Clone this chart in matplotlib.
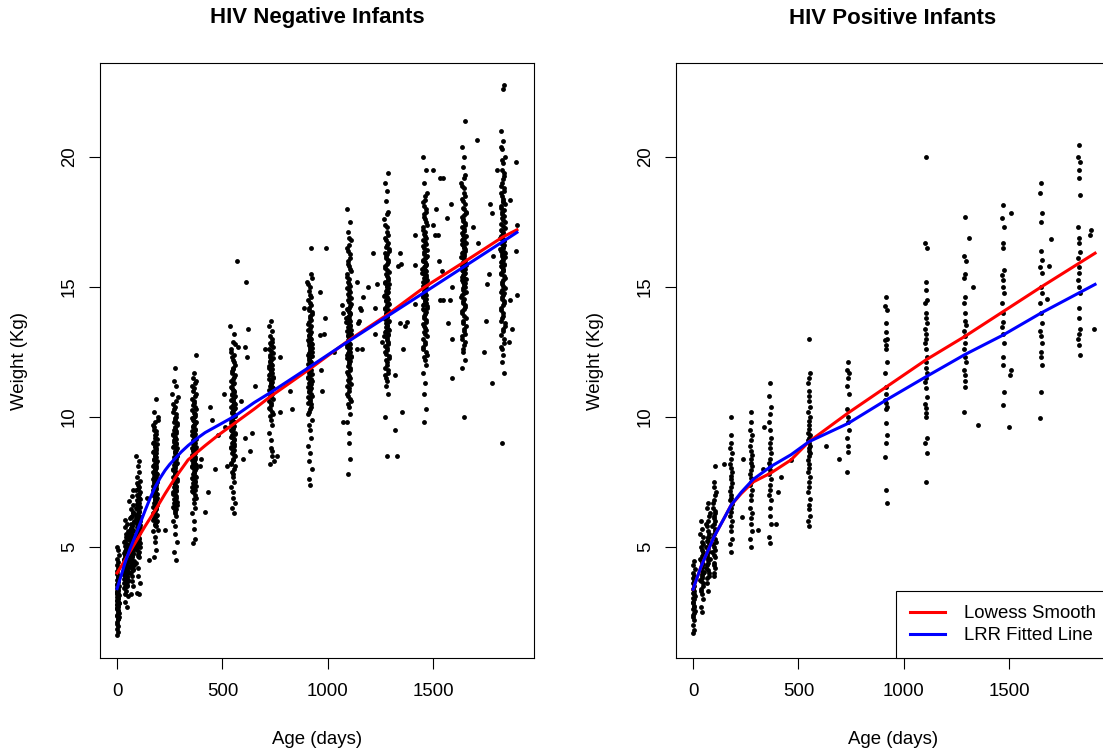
import matplotlib
matplotlib.use("Agg")
import matplotlib.pyplot as plt
import numpy as np

plt.rcParams['font.family'] = ['Liberation Sans', 'DejaVu Sans']

# ---------------------------------------------------------------------------
# Weight (kg) by age (days), HIV negative infants, grouped by scheduled visit
# ---------------------------------------------------------------------------
neg_visits = [0, 42, 70, 100, 180, 275, 365, 550, 730, 915, 1100, 1280, 1460, 1645, 1830]

neg_w0 = [1.6, 1.72, 1.85, 1.95, 2.05, 2.12, 2.22, 2.3, 2.38, 2.45, 2.52, 2.6, 2.66, 2.72,
          2.8, 2.85, 2.9, 2.96, 3.02, 3.08, 3.12, 3.18, 3.25, 3.3, 3.36, 3.42, 3.5, 3.58,
          3.65, 3.72, 3.8, 3.9, 3.98, 4.08, 4.18, 4.3, 4.42, 4.55, 4.7, 4.88, 5.0]
neg_w42 = [2.7, 2.9, 3.1, 3.2, 3.3, 3.42, 3.5, 3.56, 3.62, 3.7, 3.76, 3.82, 3.9, 3.96,
           4.02, 4.1, 4.16, 4.22, 4.3, 4.36, 4.42, 4.5, 4.56, 4.62, 4.7, 4.78, 4.86, 4.94,
           5.02, 5.1, 5.2, 5.3, 5.4, 5.5, 5.62, 5.76, 5.9, 6.05]
neg_w70 = [3.2, 3.5, 3.7, 3.88, 4.0, 4.1, 4.2, 4.3, 4.4, 4.48, 4.56, 4.64, 4.72, 4.8,
           4.88, 4.96, 5.04, 5.12, 5.2, 5.28, 5.36, 5.44, 5.52, 5.6, 5.7, 5.8, 5.9, 6.0,
           6.1, 6.2, 6.32, 6.45, 6.6, 6.78, 6.95, 7.2]
neg_w100 = [3.2, 3.25, 3.6, 3.9, 4.2, 4.4, 4.6, 4.75, 4.9, 5.0, 5.1, 5.2, 5.3, 5.4, 5.48,
            5.56, 5.64, 5.72, 5.8, 5.9, 6.0, 6.1, 6.2, 6.3, 6.4, 6.5, 6.6, 6.7, 6.8, 6.9,
            7.0, 7.12, 7.25, 7.4, 7.55, 7.7, 7.9, 8.1, 8.3, 8.5]
neg_w180 = [4.6, 4.9, 5.2, 5.4, 5.6, 5.8, 5.9, 6.0, 6.1, 6.2, 6.3, 6.4, 6.5, 6.55, 6.6,
            6.7, 6.8, 6.85, 6.9, 7.0, 7.05, 7.1, 7.2, 7.25, 7.3, 7.4, 7.45, 7.5, 7.6, 7.65,
            7.7, 7.8, 7.85, 7.9, 8.0, 8.1, 8.15, 8.2, 8.3, 8.4, 8.5, 8.6, 8.7, 8.8, 8.9,
            9.0, 9.15, 9.3, 9.45, 9.6, 9.8, 10.0, 10.2, 10.7]
neg_w275 = [4.5, 4.8, 5.2, 5.5, 5.8, 6.0, 6.2, 6.4, 6.5, 6.6, 6.7, 6.8, 6.9, 7.0, 7.1,
            7.2, 7.3, 7.35, 7.4, 7.5, 7.6, 7.7, 7.8, 7.85, 7.9, 8.0, 8.1, 8.2, 8.3, 8.4,
            8.45, 8.5, 8.6, 8.7, 8.8, 8.9, 9.0, 9.1, 9.2, 9.3, 9.4, 9.5, 9.6, 9.75, 9.9,
            10.0, 10.2, 10.4, 10.6, 10.9, 11.2, 11.4, 11.9]
neg_w365 = [5.15, 5.3, 5.7, 6.0, 6.3, 6.5, 6.7, 6.9, 7.1, 7.2, 7.3, 7.4, 7.5, 7.6, 7.7,
            7.8, 7.9, 8.0, 8.05, 8.1, 8.2, 8.3, 8.35, 8.4, 8.5, 8.6, 8.7, 8.75, 8.8, 8.9,
            9.0, 9.1, 9.2, 9.3, 9.4, 9.5, 9.6, 9.7, 9.8, 9.9, 10.0, 10.1, 10.25, 10.4,
            10.55, 10.7, 10.9, 11.1, 11.3, 11.5, 11.7, 12.4]
neg_w550 = [6.3, 6.5, 6.7, 6.9, 7.1, 7.3, 7.5, 7.7, 7.9, 8.1, 8.25, 8.4, 8.55, 8.7, 8.8,
            8.9, 9.0, 9.1, 9.2, 9.3, 9.4, 9.5, 9.6, 9.7, 9.8, 9.9, 10.0, 10.1, 10.2, 10.3,
            10.4, 10.5, 10.6, 10.7, 10.8, 10.9, 11.0, 11.1, 11.25, 11.4, 11.55, 11.7,
            11.85, 12.0, 12.2, 12.4, 12.6, 12.9, 13.2, 13.5]
neg_w730 = [8.2, 8.5, 8.8, 9.1, 9.4, 9.7, 9.9, 10.1, 10.3, 10.45, 10.6, 10.75, 10.9, 11.0,
            11.1, 11.2, 11.3, 11.4, 11.5, 11.6, 11.7, 11.8, 11.9, 12.0, 12.1, 12.2, 12.3,
            12.45, 12.6, 12.75, 12.9, 13.1, 13.3, 13.5, 13.7]
neg_w915 = [7.4, 7.6, 8.0, 8.3, 8.6, 8.9, 9.2, 9.5, 9.7, 9.9, 10.1, 10.3, 10.5, 10.6,
            10.75, 10.9, 11.0, 11.1, 11.2, 11.3, 11.4, 11.5, 11.6, 11.7, 11.8, 11.9, 12.0,
            12.1, 12.2, 12.3, 12.4, 12.5, 12.6, 12.7, 12.8, 12.9, 13.0, 13.1, 13.2, 13.35,
            13.5, 13.65, 13.8, 13.95, 14.1, 14.3, 14.5, 14.7, 15.0, 15.2, 15.5]
neg_w1100 = [7.8, 8.4, 9.0, 9.4, 9.8, 10.1, 10.4, 10.6, 10.8, 11.0, 11.2, 11.35, 11.5,
             11.65, 11.8, 11.95, 12.1, 12.2, 12.3, 12.4, 12.5, 12.6, 12.7, 12.8, 12.9, 13.0,
             13.1, 13.2, 13.3, 13.4, 13.5, 13.6, 13.7, 13.8, 13.9, 14.0, 14.1, 14.2, 14.35,
             14.5, 14.65, 14.8, 14.95, 15.1, 15.3, 15.5, 15.7, 15.9, 16.1, 16.4, 16.6, 16.8,
             17.1, 17.5, 18.0]
neg_w1280 = [8.5, 10.0, 10.9, 11.2, 11.4, 11.6, 11.8, 12.0, 12.2, 12.35, 12.5, 12.65, 12.8,
             12.95, 13.1, 13.2, 13.3, 13.4, 13.5, 13.6, 13.7, 13.8, 13.9, 14.0, 14.1, 14.2,
             14.3, 14.4, 14.5, 14.6, 14.7, 14.8, 14.9, 15.0, 15.1, 15.2, 15.35, 15.5, 15.65,
             15.8, 15.95, 16.1, 16.25, 16.4, 16.55, 16.7, 16.9, 17.1, 17.3, 17.6, 17.9, 18.3,
             18.7, 19.0, 19.4]
neg_w1460 = [9.8, 10.3, 10.9, 11.3, 11.7, 12.0, 12.2, 12.4, 12.6, 12.8, 13.0, 13.2, 13.35,
             13.5, 13.65, 13.8, 13.95, 14.1, 14.2, 14.3, 14.4, 14.5, 14.6, 14.7, 14.8, 14.9,
             15.0, 15.1, 15.2, 15.3, 15.4, 15.5, 15.6, 15.7, 15.8, 15.9, 16.0, 16.1, 16.2,
             16.35, 16.5, 16.65, 16.8, 16.95, 17.1, 17.3, 17.5, 17.7, 17.9, 18.1, 18.35,
             18.6, 19.0, 19.5, 20.0]
neg_w1645 = [10.0, 11.9, 12.2, 12.5, 12.75, 13.0, 13.2, 13.4, 13.6, 13.8, 14.0, 14.15, 14.3,
             14.45, 14.6, 14.75, 14.9, 15.0, 15.1, 15.2, 15.3, 15.4, 15.5, 15.6, 15.7, 15.8,
             15.9, 16.0, 16.1, 16.2, 16.3, 16.4, 16.5, 16.6, 16.7, 16.8, 16.9, 17.0, 17.15,
             17.3, 17.45, 17.6, 17.75, 17.9, 18.05, 18.2, 18.4, 18.6, 18.8, 19.0, 19.3, 19.6,
             20.0, 20.4, 21.4]
neg_w1830 = [9.0, 11.7, 12.1, 12.4, 12.7, 13.0, 13.3, 13.5, 13.7, 13.9, 14.1, 14.3, 14.45,
             14.6, 14.75, 14.9, 15.05, 15.2, 15.35, 15.5, 15.6, 15.7, 15.8, 15.9, 16.0, 16.1,
             16.2, 16.3, 16.4, 16.5, 16.6, 16.7, 16.8, 16.9, 17.0, 17.1, 17.2, 17.35, 17.5,
             17.65, 17.8, 17.95, 18.1, 18.25, 18.4, 18.6, 18.8, 19.0, 19.25, 19.5, 19.75,
             20.0, 20.3, 20.6, 21.0, 22.6, 22.75]

# second batch of measurements at the same visits (fills the crowded middle of each visit)
neg_w0_b = [2.25, 2.35, 2.48, 2.56, 2.64, 2.7, 2.78, 2.83, 2.88, 2.93, 3.0, 3.05, 3.14,
            3.22, 3.28, 3.34, 3.46, 3.55, 3.68, 3.85]
neg_w42_b = [3.45, 3.52, 3.6, 3.66, 3.74, 3.8, 3.86, 3.93, 4.0, 4.06, 4.13, 4.2, 4.26, 4.33,
             4.4, 4.47, 4.54, 4.6, 4.68, 4.76, 4.84, 4.92, 5.05, 5.25, 5.45]
neg_w70_b = [4.05, 4.15, 4.25, 4.35, 4.45, 4.52, 4.6, 4.68, 4.76, 4.84, 4.92, 5.0, 5.08,
             5.16, 5.24, 5.32, 5.4, 5.48, 5.56, 5.65, 5.75, 5.86, 5.98, 6.15, 6.35]
neg_w100_b = [4.65, 4.8, 4.95, 5.05, 5.15, 5.25, 5.35, 5.45, 5.52, 5.6, 5.68, 5.76, 5.85,
              5.95, 6.05, 6.15, 6.25, 6.35, 6.45, 6.55, 6.65, 6.75, 6.85, 6.95, 7.05, 7.18,
              7.3, 7.45]
neg_w180_b = [5.85, 5.95, 6.05, 6.15, 6.25, 6.35, 6.45, 6.52, 6.62, 6.75, 6.82, 6.95, 7.02,
              7.12, 7.18, 7.28, 7.35, 7.42, 7.52, 7.58, 7.68, 7.75, 7.82, 7.95, 8.05, 8.12,
              8.25, 8.35, 8.45, 8.55, 8.65, 8.75, 8.85, 8.95, 9.05, 9.2, 9.35, 9.5, 9.7, 9.9]
neg_w275_b = [6.3, 6.45, 6.55, 6.65, 6.75, 6.85, 6.95, 7.05, 7.15, 7.25, 7.32, 7.45, 7.55,
              7.65, 7.75, 7.82, 7.95, 8.05, 8.15, 8.25, 8.35, 8.42, 8.55, 8.65, 8.75, 8.85,
              8.95, 9.05, 9.15, 9.25, 9.35, 9.45, 9.55, 9.68, 9.8, 9.95, 10.1, 10.3, 10.5,
              10.75]
neg_w365_b = [6.85, 7.0, 7.15, 7.25, 7.35, 7.45, 7.55, 7.65, 7.75, 7.85, 7.95, 8.08, 8.15,
              8.25, 8.32, 8.45, 8.55, 8.65, 8.72, 8.85, 8.95, 9.05, 9.15, 9.25, 9.35, 9.45,
              9.55, 9.65, 9.75, 9.85, 9.95, 10.05, 10.15, 10.3, 10.45, 10.6, 10.8, 11.0,
              11.2, 11.4]
neg_w550_b = [7.8, 8.0, 8.2, 8.35, 8.5, 8.62, 8.75, 8.85, 8.95, 9.05, 9.15, 9.25, 9.35,
              9.45, 9.55, 9.65, 9.75, 9.85, 9.95, 10.05, 10.15, 10.25, 10.35, 10.45, 10.55,
              10.65, 10.75, 10.85, 10.95, 11.05, 11.15, 11.3, 11.45, 11.6, 11.75, 11.9, 12.1,
              12.3, 12.5, 12.8]
neg_w730_b = [10.05, 10.2, 10.35, 10.52, 10.68, 10.82, 10.95, 11.05, 11.15, 11.25, 11.35,
              11.45, 11.55, 11.65, 11.75, 11.85, 11.95, 12.05, 12.15, 12.25, 12.38, 12.52,
              12.68, 12.85, 13.0]
neg_w915_b = [10.2, 10.4, 10.55, 10.7, 10.82, 10.95, 11.05, 11.15, 11.25, 11.35, 11.45,
              11.55, 11.65, 11.75, 11.85, 11.95, 12.05, 12.15, 12.25, 12.35, 12.45, 12.55,
              12.65, 12.75, 12.85, 12.95, 13.05, 13.15, 13.28, 13.42, 13.58, 13.72, 13.88,
              14.02, 14.2, 14.4, 14.6, 14.85, 15.1, 15.35]
neg_w1100_b = [10.5, 10.7, 10.9, 11.1, 11.28, 11.42, 11.58, 11.72, 11.88, 12.02, 12.15,
               12.25, 12.35, 12.45, 12.55, 12.65, 12.75, 12.85, 12.95, 13.05, 13.15, 13.25,
               13.35, 13.45, 13.55, 13.65, 13.75, 13.85, 13.95, 14.05, 14.15, 14.28, 14.42,
               14.58, 14.72, 14.88, 15.02, 15.2, 15.4, 15.6, 15.8, 16.0, 16.25, 16.5, 16.9]
neg_w1280_b = [11.5, 11.7, 11.9, 12.1, 12.28, 12.42, 12.58, 12.72, 12.88, 13.02, 13.15,
               13.25, 13.35, 13.45, 13.55, 13.65, 13.75, 13.85, 13.95, 14.05, 14.15, 14.25,
               14.35, 14.45, 14.55, 14.65, 14.75, 14.85, 14.95, 15.05, 15.15, 15.28, 15.42,
               15.58, 15.72, 15.88, 16.02, 16.18, 16.32, 16.48, 16.62, 16.8, 17.0, 17.4, 17.8]
neg_w1460_b = [12.3, 12.5, 12.7, 12.9, 13.1, 13.28, 13.42, 13.58, 13.72, 13.88, 14.02,
               14.15, 14.25, 14.35, 14.45, 14.55, 14.65, 14.75, 14.85, 14.95, 15.05, 15.15,
               15.25, 15.35, 15.45, 15.55, 15.65, 15.75, 15.85, 15.95, 16.05, 16.15, 16.28,
               16.42, 16.58, 16.72, 16.88, 17.02, 17.2, 17.4, 17.6, 17.8, 18.0, 18.25, 18.5]
neg_w1645_b = [12.6, 12.9, 13.1, 13.3, 13.5, 13.7, 13.9, 14.08, 14.22, 14.38, 14.52, 14.68,
               14.82, 14.95, 15.05, 15.15, 15.25, 15.35, 15.45, 15.55, 15.65, 15.75, 15.85,
               15.95, 16.05, 16.15, 16.25, 16.35, 16.45, 16.55, 16.65, 16.75, 16.85, 16.95,
               17.08, 17.22, 17.38, 17.52, 17.68, 17.85, 18.0, 18.3, 18.5, 18.9, 19.2]
neg_w1830_b = [12.6, 12.85, 13.15, 13.4, 13.6, 13.8, 14.0, 14.2, 14.38, 14.52, 14.68, 14.82,
               14.98, 15.12, 15.28, 15.42, 15.55, 15.65, 15.75, 15.85, 15.95, 16.05, 16.15,
               16.25, 16.35, 16.45, 16.55, 16.65, 16.75, 16.85, 16.95, 17.05, 17.15, 17.28,
               17.42, 17.58, 17.72, 17.88, 18.02, 18.18, 18.32, 18.5, 18.7, 18.9, 19.15, 19.4,
               19.9, 20.4]

# off-schedule measurements (age, weight)
neg_extra_age = [142, 195, 228, 150, 394, 400, 430, 418, 451, 465,
                 440, 480, 508, 510, 520, 575, 570, 607, 612, 617,
                 622, 655, 631, 640, 607, 600, 590, 760, 735, 745,
                 774, 774, 821, 830, 700, 888, 920, 990, 963, 987,
                 963, 983, 968, 975, 1030, 1068, 1072, 1073, 1139, 1153,
                 1165, 1191, 1158, 1143, 1150, 1163, 1140, 1215, 1234, 1225,
                 1222, 1257, 1343, 1348, 1335, 1343, 1376, 1365, 1357, 1320,
                 1352, 1320, 1330, 1414, 1414, 1414, 1500, 1535, 1548, 1515,
                 1565, 1500, 1510, 1525, 1528, 1540, 1535, 1548, 1582, 1587,
                 1592, 1572, 1590, 1590, 1708, 1690, 1713, 1770, 1778, 1765,
                 1750, 1778, 1755, 1740, 1894, 1898, 1894, 1898, 1875, 1865,
                 1865, 1860, 1805, 1785]
neg_extra_wt = [6.9, 5.65, 5.65, 4.5, 8.1, 8.4, 7.1, 6.35, 9.9, 8.0,
                10.4, 9.3, 10.9, 9.6, 8.1, 12.7, 16.0, 12.7, 15.2, 12.3,
                13.4, 11.2, 8.7, 9.4, 9.2, 8.4, 10.6, 8.5, 8.7, 8.3,
                12.3, 10.2, 11.0, 10.3, 12.6, 14.2, 16.5, 16.5, 14.8, 13.8,
                13.15, 13.2, 11.8, 11.0, 12.5, 14.3, 14.0, 9.8, 15.2, 14.2,
                14.6, 15.0, 14.1, 13.6, 13.7, 12.6, 12.6, 16.3, 15.1, 14.2,
                13.2, 12.9, 16.3, 15.9, 15.8, 13.6, 13.65, 13.5, 12.6, 11.6,
                10.2, 9.5, 8.5, 17.0, 15.85, 14.35, 19.5, 19.2, 19.2, 18.0,
                17.65, 17.4, 17.0, 17.0, 16.0, 15.6, 14.5, 14.5, 14.5, 18.2,
                15.0, 13.6, 13.0, 11.5, 20.65, 17.3, 16.7, 18.2, 17.85, 15.5,
                13.7, 11.3, 15.1, 12.5, 19.8, 17.4, 16.4, 14.7, 13.4, 14.5,
                18.35, 12.9, 19.5, 16.2]

# ---------------------------------------------------------------------------
# Weight (kg) by age (days), HIV positive infants
# ---------------------------------------------------------------------------
pos_visits = [0, 42, 70, 100, 180, 275, 365, 550, 735, 916, 1106, 1290, 1471, 1652, 1832]

pos_w0 = [1.7, 1.8, 2.0, 2.2, 2.3, 2.4, 2.45, 2.55, 2.6, 2.7, 2.75, 2.85, 2.9, 3.0, 3.05,
          3.1, 3.2, 3.25, 3.3, 3.4, 3.5, 3.6, 3.7, 3.8, 3.9, 4.0, 4.15, 4.3, 4.45]
pos_w42 = [2.5, 2.7, 3.0, 3.2, 3.4, 3.5, 3.7, 3.8, 3.9, 4.0, 4.1, 4.25, 4.4, 4.5, 4.65,
           4.8, 5.0, 5.2, 5.4, 5.7, 6.0]
pos_w70 = [3.3, 3.6, 3.9, 4.1, 4.3, 4.5, 4.6, 4.8, 4.95, 5.1, 5.25, 5.4, 5.6, 5.8, 6.0,
           6.2, 6.5, 6.7]
pos_w100 = [3.9, 4.0, 4.2, 4.4, 4.7, 4.9, 5.1, 5.3, 5.5, 5.7, 5.9, 6.1, 6.3, 6.5, 6.8,
            7.0, 7.3, 7.5, 8.1]
pos_w180 = [4.8, 5.1, 5.3, 5.6, 5.8, 6.0, 6.2, 6.35, 6.5, 6.65, 6.8, 6.9, 7.0, 7.15, 7.3,
            7.45, 7.6, 7.75, 7.9, 8.05, 8.2, 8.4, 8.6, 8.8, 9.0, 9.3, 10.0]
pos_w275 = [5.0, 5.3, 5.6, 5.9, 6.1, 6.3, 6.5, 6.8, 7.0, 7.2, 7.4, 7.5, 7.65, 7.8, 7.95,
            8.1, 8.25, 8.4, 8.55, 8.7, 8.9, 9.1, 9.3, 9.5, 9.8, 10.2]
pos_w365 = [5.15, 5.4, 5.9, 6.2, 6.5, 6.8, 7.0, 7.2, 7.4, 7.6, 7.8, 7.95, 8.1, 8.25, 8.4,
            8.6, 8.8, 9.0, 9.2, 9.5, 9.8, 10.1, 10.4, 10.8, 11.3]
pos_w550 = [5.8, 6.0, 6.2, 6.45, 6.6, 6.85, 7.1, 7.3, 7.5, 7.7, 7.9, 8.05, 8.2, 8.35, 8.5,
            8.6, 8.7, 8.8, 8.9, 9.0, 9.1, 9.2, 9.3, 9.4, 9.55, 9.7, 9.85, 10.0, 10.2, 10.4,
            10.6, 10.8, 11.0, 11.3, 11.5, 11.7, 13.0]
pos_w735 = [12.1, 11.8, 11.7, 11.5, 11.2, 10.9, 10.3, 10.0, 9.8, 9.5, 9.2, 8.9, 8.65, 7.9]
pos_w916 = [14.6, 14.25, 14.1, 13.6, 13.25, 13.0, 12.95, 12.75, 12.6, 12.1, 11.7, 11.15,
            10.9, 10.65, 10.55, 10.4, 10.3, 9.75, 9.3, 9.0, 8.45, 7.2, 6.7]
pos_w1106 = [20.0, 16.7, 16.5, 15.2, 14.9, 14.5, 14.4, 14.0, 13.8, 13.6, 13.4, 13.2, 13.0,
             12.85, 12.6, 12.3, 12.1, 11.9, 11.7, 11.5, 11.35, 11.1, 10.75, 10.5, 10.35,
             10.15, 10.0, 9.2, 9.0, 8.6, 7.5]
pos_w1290 = [17.7, 16.2, 16.0, 15.5, 15.35, 14.6, 14.4, 14.0, 13.7, 13.55, 13.3, 13.1,
             12.85, 12.6, 12.3, 12.1, 11.8, 11.6, 11.4, 11.15, 10.2]
pos_w1471 = [18.15, 17.65, 17.3, 16.7, 16.5, 15.65, 15.45, 15.25, 15.0, 14.75, 14.4, 14.0,
             13.65, 13.45, 13.2, 12.85, 12.3, 12.0, 10.95, 10.45]
pos_w1652 = [19.0, 18.6, 17.85, 17.5, 16.4, 16.05, 15.75, 15.55, 15.0, 14.75, 14.4, 14.0,
             13.6, 13.3, 13.1, 12.85, 12.5, 12.3, 12.0, 10.95, 9.95]
pos_w1832 = [20.45, 20.0, 19.8, 19.5, 19.2, 18.55, 17.3, 16.9, 16.7, 16.35, 16.1, 15.75,
             15.55, 15.25, 15.0, 14.75, 14.2, 13.8, 13.4, 13.2, 13.0, 12.75, 12.4]

# second batch for the crowded early visits
pos_early_visits = [42, 70, 100]
pos_w42_b = [3.3, 3.6, 3.75, 3.95, 4.05, 4.2, 4.35, 4.55, 4.7, 4.9, 5.1, 5.5]
pos_w70_b = [3.8, 4.0, 4.2, 4.4, 4.55, 4.7, 4.85, 5.0, 5.2, 5.35, 5.5, 5.9, 6.3]
pos_w100_b = [4.3, 4.6, 4.8, 5.0, 5.2, 5.4, 5.6, 5.8, 6.0, 6.2, 6.4, 6.7, 7.1]

pos_extra_age = [147, 237, 332, 337, 403, 418, 465, 308, 232, 394,
                 632, 693, 1310, 1330, 1352, 1510, 1510, 1505, 1500, 1700,
                 1680, 1690, 1889, 1886, 1903]
pos_extra_wt = [8.2, 8.4, 8.0, 9.6, 7.1, 7.7, 8.35, 5.65, 6.15, 5.9,
                8.9, 8.4, 16.9, 15.0, 9.7, 17.85, 11.8, 11.6, 9.6, 16.85,
                14.55, 15.8, 17.2, 17.0, 13.4]

# day offsets of each measurement from its scheduled visit
offs_birth = [0, 3, 1, 5, 2, 0, 4, 7, 1, 3, 6, 0, 2, 5, 1, 8, 3, 0, 4, 2, 6, 1, 3, 0, 5,
              2, 7, 1, 4, 0, 3, 6, 2, 1, 5, 0, 4, 2, 9, 3, 1, 6]
offs_birth2 = [5, 1, 7, 3, 0, 6, 2, 8, 4, 1, 5, 3, 7, 0, 2, 6, 4, 1, 3, 5]
offs_a = [3, -6, 8, -2, 0, -9, 5, 1, -4, 10, -7, 2, 6, -1, -11, 4, -3, 7, 0, -5, 9, -8, 2,
          -2, 5, -10, 1, 6, -4, 3, -7, 8, 0, -1, 11, -6, 4, -3, 2, -9, 7, -5, 1, 9, -2, 5,
          -8, 0, 3, -12, 6, -4, 2, -6, 8, -1, 4, -3, 10, -7]
offs_b = [-4, 7, -1, 2, -8, 5, 0, 9, -6, 3, -10, 1, 6, -3, 8, -5, 2, -1, 11, -7, 4, 0, -9,
          6, -2, 3, -5, 10, -8, 1, 5, -3, 7, -11, 0, 4, -6, 2, 9, -4, -1, 6, -7, 3, 1, -9,
          8, -2, 5, -5, 0, 12, -3, 4, -8, 2, 7, -6, 1, -10]
offs_c = [-2, 5, -8, 1, 9, -5, 3, -10, 6, -1, 4, -7, 10, -3, 0, 7, -9, 2, -4, 8, -6, 1, 11,
          -2, 5, -11, 3, -5, 7, 0, -8, 4, -1, 9, -6, 2, 6, -3, -9, 12, 0, -4, 5, -7, 3, 8,
          -2, -10, 1, 6]
offs_p = [1, -3, 4, 0, -2, 3, -4, 2, -1, 5, -3, 0, 2, -5, 1, 4, -2, 0, 3, -1, -4, 2, 5, -3,
          1, 0, -2, 4, -5, 3, -1, 2, 0, -4, 1, 3, -2, 5, -3, 0, 2, -1, 4, -4, 1]

# fitted curves
neg_lowess_age = [0, 38, 85, 133, 180, 228, 275, 337, 418, 480, 560, 650, 730, 915, 1100,
                  1280, 1460, 1645, 1830, 1898]
neg_lowess_wt = [4.0, 4.5, 5.15, 5.8, 6.4, 7.05, 7.65, 8.35, 8.9, 9.3, 9.77, 10.3, 10.8,
                 11.85, 12.95, 13.92, 15.0, 15.95, 16.92, 17.2]
neg_lrr_age = [0, 20, 38, 60, 85, 110, 133, 157, 180, 205, 228, 250, 275, 305, 337, 375,
               418, 489, 560, 650, 730, 915, 1058, 1280, 1460, 1645, 1830, 1898]
neg_lrr_wt = [3.4, 3.92, 4.4, 4.9, 5.4, 5.92, 6.4, 6.88, 7.3, 7.66, 7.95, 8.18, 8.4, 8.66,
              8.9, 9.15, 9.4, 9.72, 10.04, 10.55, 10.95, 11.93, 12.7, 13.86, 14.8, 15.77,
              16.74, 17.1]
pos_lowess_age = [0, 38, 100, 147, 180, 228, 285, 370, 465, 550, 735, 916, 1106, 1290,
                  1471, 1652, 1908]
pos_lowess_wt = [3.38, 4.25, 5.4, 6.1, 6.6, 7.05, 7.5, 7.85, 8.35, 9.05, 10.15, 11.15,
                 12.2, 13.1, 14.05, 15.0, 16.3]
pos_lrr_age = [0, 38, 100, 147, 180, 228, 285, 370, 465, 550, 735, 916, 1106, 1290,
               1471, 1652, 1908]
pos_lrr_wt = [3.38, 4.25, 5.4, 6.1, 6.6, 7.1, 7.6, 8.1, 8.55, 9.05, 9.75, 10.65, 11.55,
              12.4, 13.15, 14.0, 15.1]

neg_cols = [neg_w0, neg_w42, neg_w70, neg_w100, neg_w180, neg_w275, neg_w365, neg_w550,
            neg_w730, neg_w915, neg_w1100, neg_w1280, neg_w1460, neg_w1645, neg_w1830]
neg_cols_b = [neg_w0_b, neg_w42_b, neg_w70_b, neg_w100_b, neg_w180_b, neg_w275_b,
              neg_w365_b, neg_w550_b, neg_w730_b, neg_w915_b, neg_w1100_b, neg_w1280_b,
              neg_w1460_b, neg_w1645_b, neg_w1830_b]
pos_cols = [pos_w0, pos_w42, pos_w70, pos_w100, pos_w180, pos_w275, pos_w365, pos_w550,
            pos_w735, pos_w916, pos_w1106, pos_w1290, pos_w1471, pos_w1652, pos_w1832]
pos_cols_b = [pos_w42_b, pos_w70_b, pos_w100_b]

x_ticks = [0, 500, 1000, 1500]
y_ticks = [5, 10, 15, 20]

FS = 13.4
MS = 3.5
W, H = 1103, 754
fig = plt.figure(figsize=(W / 100, H / 100), dpi=100)
fig.patch.set_facecolor('white')

box_w, box_h = 434 / W, 595 / H
box_b = (H - 658) / H
ax_neg = fig.add_axes([100 / W, box_b, box_w, box_h])
ax_pos = fig.add_axes([676 / W, box_b, box_w, box_h])


def draw_visits(ax, visits, cols, offset_lists):
    for v, w, offs in zip(visits, cols, offset_lists):
        ages = v + np.asarray(offs[:len(w)], dtype=float)
        ax.plot(ages, w, linestyle='none', marker='o', ms=MS, mew=0,
                color='black', zorder=2)


neg_offsets = [offs_birth] + [offs_a if k % 2 else offs_b for k in range(1, len(neg_visits))]
neg_offsets_b = [offs_birth2] + [offs_c] * (len(neg_visits) - 1)
pos_offsets = [offs_birth] + [offs_p] * (len(pos_visits) - 1)

draw_visits(ax_neg, neg_visits, neg_cols, neg_offsets)
draw_visits(ax_neg, neg_visits, neg_cols_b, neg_offsets_b)
draw_visits(ax_pos, pos_visits, pos_cols, pos_offsets)
draw_visits(ax_pos, pos_early_visits, pos_cols_b, [offs_c] * 3)
ax_neg.plot(neg_extra_age, neg_extra_wt, linestyle='none', marker='o', ms=MS, mew=0,
            color='black', zorder=2)
ax_pos.plot(pos_extra_age, pos_extra_wt, linestyle='none', marker='o', ms=MS, mew=0,
            color='black', zorder=2)

ax_neg.plot(neg_lowess_age, neg_lowess_wt, color='#ff0000', lw=2.2, zorder=3)
ax_neg.plot(neg_lrr_age, neg_lrr_wt, color='#0000ff', lw=2.2, zorder=4)
l1, = ax_pos.plot(pos_lowess_age, pos_lowess_wt, color='#ff0000', lw=2.2, zorder=3,
                  label='Lowess Smooth')
l2, = ax_pos.plot(pos_lrr_age, pos_lrr_wt, color='#0000ff', lw=2.2, zorder=4,
                  label='LRR Fitted Line')

titles = ['HIV Negative Infants', 'HIV Positive Infants']
for ax, title in zip([ax_neg, ax_pos], titles):
    ax.set_xlim(-81, 1979)
    ax.set_ylim(0.731, 23.615)
    ax.set_xticks(x_ticks)
    ax.set_yticks(y_ticks)
    ax.set_xticklabels([str(t) for t in x_ticks])
    ax.set_yticklabels([str(t) for t in y_ticks], rotation=90, va='center')
    ax.tick_params(axis='both', direction='out', length=8, width=0.8,
                   labelsize=FS, color='black')
    ax.tick_params(axis='x', pad=10)
    ax.tick_params(axis='y', pad=8)
    for s in ax.spines.values():
        s.set_linewidth(0.8)
        s.set_color('black')
    ax.text(0.5, 1 + (63 - 18) / 595, title, transform=ax.transAxes, ha='center',
            va='center', fontsize=16, fontweight='bold')
    ax.text(0.5, -(740 - 658) / 595, 'Age (days)', transform=ax.transAxes,
            ha='center', va='center', fontsize=FS)
    ax.text(-(100 - 20) / 434, 0.5, 'Weight (Kg)', transform=ax.transAxes,
            ha='center', va='center', rotation=90, fontsize=FS)

leg = ax_pos.legend(handles=[l1, l2], loc='lower right', bbox_to_anchor=(1, 0),
                    borderaxespad=0, fancybox=False, framealpha=1, edgecolor='black',
                    fontsize=FS, handlelength=1.9, handletextpad=1.0, borderpad=0.75,
                    labelspacing=0.25)
leg.get_frame().set_linewidth(0.8)

fig.savefig('out.png', dpi=100, facecolor='white')
